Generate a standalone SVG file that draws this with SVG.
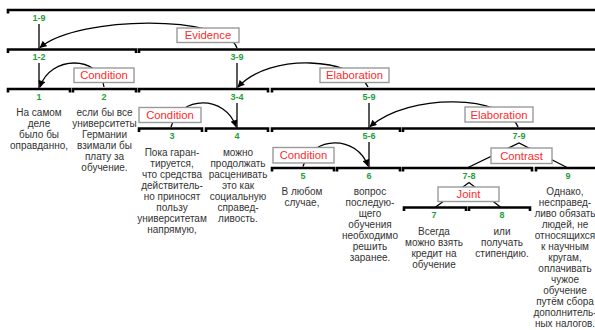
<svg xmlns="http://www.w3.org/2000/svg" width="595" height="330" viewBox="0 0 595 330">
<style>
.seg{fill:none;stroke:#000;stroke-width:2.6}
.lbl{font-family:"Liberation Sans",Arial,sans-serif;font-size:9px;font-weight:bold;fill:#1e9e3a;text-anchor:middle}
.txt{font-family:"Liberation Sans",Arial,sans-serif;font-size:10px;fill:#333;text-anchor:middle}
.rel rect{fill:#fff;stroke:#9a9a9a;stroke-width:1.4}
.rel text{font-family:"Liberation Sans",Arial,sans-serif;font-size:11.3px;fill:#ff2b2b;text-anchor:middle}
.arc{fill:none;stroke:#000;stroke-width:1.3}
.vl{fill:none;stroke:#000;stroke-width:1.3}
</style>
<defs>
<marker id="ah" viewBox="0 0 10 10" refX="9" refY="5" markerWidth="8" markerHeight="7" markerUnits="userSpaceOnUse" orient="auto">
<path d="M0,0 L10,5 L0,10 z" fill="#000"/>
</marker>
</defs>
<rect width="595" height="330" fill="#fff"/>

<g id="connectors">
<path class="vl" d="M39 24 V49"/>
<path class="vl" d="M39 63 V88.5"/>
<path class="vl" d="M237 63 V88.5"/>
<path class="vl" d="M237 103 V128"/>
<path class="vl" d="M369 103 V128"/>
<path class="vl" d="M369 142 V167.5"/>
<path class="arc" marker-end="url(#ah)" d="M237 48 C225 15, 80 15, 40 47.5"/>
<path class="arc" marker-end="url(#ah)" d="M104 87 C100 55, 50 55, 40 87"/>
<path class="arc" marker-end="url(#ah)" d="M368 87 C355 58, 270 52, 238 87"/>
<path class="arc" marker-end="url(#ah)" d="M171 127 C180 95, 225 95, 236 126.5"/>
<path class="arc" marker-end="url(#ah)" d="M518 127 C505 95, 410 92, 370 126.5"/>
<path class="arc" marker-end="url(#ah)" d="M303 166.5 C312 135, 357 135, 368 166"/>
<path class="vl" d="M467 168 L519 143 L568 168"/>
<path class="vl" d="M435 207.5 L469 182.5 L501 207.5"/>
</g>

<g id="spans">
<path class="seg" d="M8 13.5 V10 H600"/>
<path class="seg" d="M8 53 V49.5 H136 V53"/>
<path class="seg" d="M139 53 V49.5 H600"/>
<path class="seg" d="M8 92.5 V89 H70 V92.5"/>
<path class="seg" d="M73 92.5 V89 H136 V92.5"/>
<path class="seg" d="M139 92.5 V89 H268 V92.5"/>
<path class="seg" d="M272 92.5 V89 H600"/>
<path class="seg" d="M139 132 V128.5 H202 V132"/>
<path class="seg" d="M206 132 V128.5 H268 V132"/>
<path class="seg" d="M272 132 V128.5 H400 V132"/>
<path class="seg" d="M403 132 V128.5 H600"/>
<path class="seg" d="M272 171.5 V168 H334 V171.5"/>
<path class="seg" d="M337 171.5 V168 H400 V171.5"/>
<path class="seg" d="M403 171.5 V168 H532 V171.5"/>
<path class="seg" d="M536 171.5 V168 H600"/>
<path class="seg" d="M404 211 V207.5 H466 V211"/>
<path class="seg" d="M469 211 V207.5 H530 V211"/>
<text class="lbl" x="39" y="21">1-9</text>
<text class="lbl" x="39" y="60">1-2</text>
<text class="lbl" x="237" y="60">3-9</text>
<text class="lbl" x="237" y="99.5">3-4</text>
<text class="lbl" x="369" y="99.5">5-9</text>
<text class="lbl" x="369" y="139">5-6</text>
<text class="lbl" x="519" y="139">7-9</text>
<text class="lbl" x="469" y="178.5">7-8</text>
</g>

<g id="rel-evidence" class="rel"><rect x="177" y="28" width="62" height="14.5"/><text x="208" y="39">Evidence</text></g>
<g id="rel-condition-12" class="rel"><rect x="74" y="68" width="60" height="14.5"/><text x="104" y="79">Condition</text></g>
<g id="rel-elaboration-39" class="rel"><rect x="320" y="68" width="69" height="14.5"/><text x="354.5" y="79">Elaboration</text></g>
<g id="rel-condition-34" class="rel"><rect x="139" y="107.5" width="62" height="15"/><text x="170" y="119">Condition</text></g>
<g id="rel-elaboration-59" class="rel"><rect x="465" y="107" width="68" height="15"/><text x="499" y="118.5">Elaboration</text></g>
<g id="rel-condition-56" class="rel"><rect x="273" y="147.5" width="61" height="15.5"/><text x="303.5" y="159">Condition</text></g>
<g id="rel-contrast" class="rel"><rect x="491" y="148" width="61" height="15.5"/><text x="521.5" y="159.5">Contrast</text></g>
<g id="rel-joint" class="rel"><rect x="438" y="187" width="61" height="14.5"/><text x="468.5" y="198">Joint</text></g>

<g id="node1"><text class="lbl" x="39" y="99.5">1</text>
<text class="txt" x="39" y="116"><tspan x="39">На самом</tspan><tspan x="39" dy="11">деле</tspan><tspan x="39" dy="11">было бы</tspan><tspan x="39" dy="11">оправданно,</tspan></text></g>
<g id="node2"><text class="lbl" x="104" y="99.5">2</text>
<text class="txt" x="104.5" y="116"><tspan x="104.5">если бы все</tspan><tspan x="104.5" dy="11">университеты</tspan><tspan x="104.5" dy="11">Германии</tspan><tspan x="104.5" dy="11">взимали бы</tspan><tspan x="104.5" dy="11">плату за</tspan><tspan x="104.5" dy="11">обучение.</tspan></text></g>
<g id="node3"><text class="lbl" x="172" y="139">3</text>
<text class="txt" x="172" y="155.5"><tspan x="172">Пока гаран-</tspan><tspan x="172" dy="11">тируется,</tspan><tspan x="172" dy="11">что средства</tspan><tspan x="172" dy="11">действитель-</tspan><tspan x="172" dy="11">но приносят</tspan><tspan x="172" dy="11">пользу</tspan><tspan x="172" dy="11">университетам</tspan><tspan x="172" dy="11">напрямую,</tspan></text></g>
<g id="node4"><text class="lbl" x="237" y="139">4</text>
<text class="txt" x="238" y="155.5"><tspan x="238">можно</tspan><tspan x="238" dy="11">продолжать</tspan><tspan x="238" dy="11">расценивать</tspan><tspan x="238" dy="11">это как</tspan><tspan x="238" dy="11">социальную</tspan><tspan x="238" dy="11">справед-</tspan><tspan x="238" dy="11">ливость.</tspan></text></g>
<g id="node5"><text class="lbl" x="303" y="178.5">5</text>
<text class="txt" x="302" y="195"><tspan x="302">В любом</tspan><tspan x="302" dy="11">случае,</tspan></text></g>
<g id="node6"><text class="lbl" x="369" y="178.5">6</text>
<text class="txt" x="370" y="195"><tspan x="370">вопрос</tspan><tspan x="370" dy="11">последую-</tspan><tspan x="370" dy="11">щего</tspan><tspan x="370" dy="11">обучения</tspan><tspan x="370" dy="11">необходимо</tspan><tspan x="370" dy="11">решить</tspan><tspan x="370" dy="11">заранее.</tspan></text></g>
<g id="node7"><text class="lbl" x="434" y="218">7</text>
<text class="txt" x="434" y="234.5"><tspan x="434">Всегда</tspan><tspan x="434" dy="11">можно взять</tspan><tspan x="434" dy="11">кредит на</tspan><tspan x="434" dy="11">обучение</tspan></text></g>
<g id="node8"><text class="lbl" x="502" y="218">8</text>
<text class="txt" x="502" y="234.5"><tspan x="502">или</tspan><tspan x="502" dy="11">получать</tspan><tspan x="502" dy="11">стипендию.</tspan></text></g>
<g id="node9"><text class="lbl" x="568" y="178.5">9</text>
<text class="txt" x="565" y="195"><tspan x="565">Однако,</tspan><tspan x="565" dy="11">несправед-</tspan><tspan x="565" dy="11">ливо обязать</tspan><tspan x="565" dy="11">людей, не</tspan><tspan x="565" dy="11">относящихся</tspan><tspan x="565" dy="11">к научным</tspan><tspan x="565" dy="11">кругам,</tspan><tspan x="565" dy="11">оплачивать</tspan><tspan x="565" dy="11">чужое</tspan><tspan x="565" dy="11">обучение</tspan><tspan x="565" dy="11">путём сбора</tspan><tspan x="565" dy="11">дополнитель-</tspan><tspan x="565" dy="11">ных налогов.</tspan></text></g>
</svg>
